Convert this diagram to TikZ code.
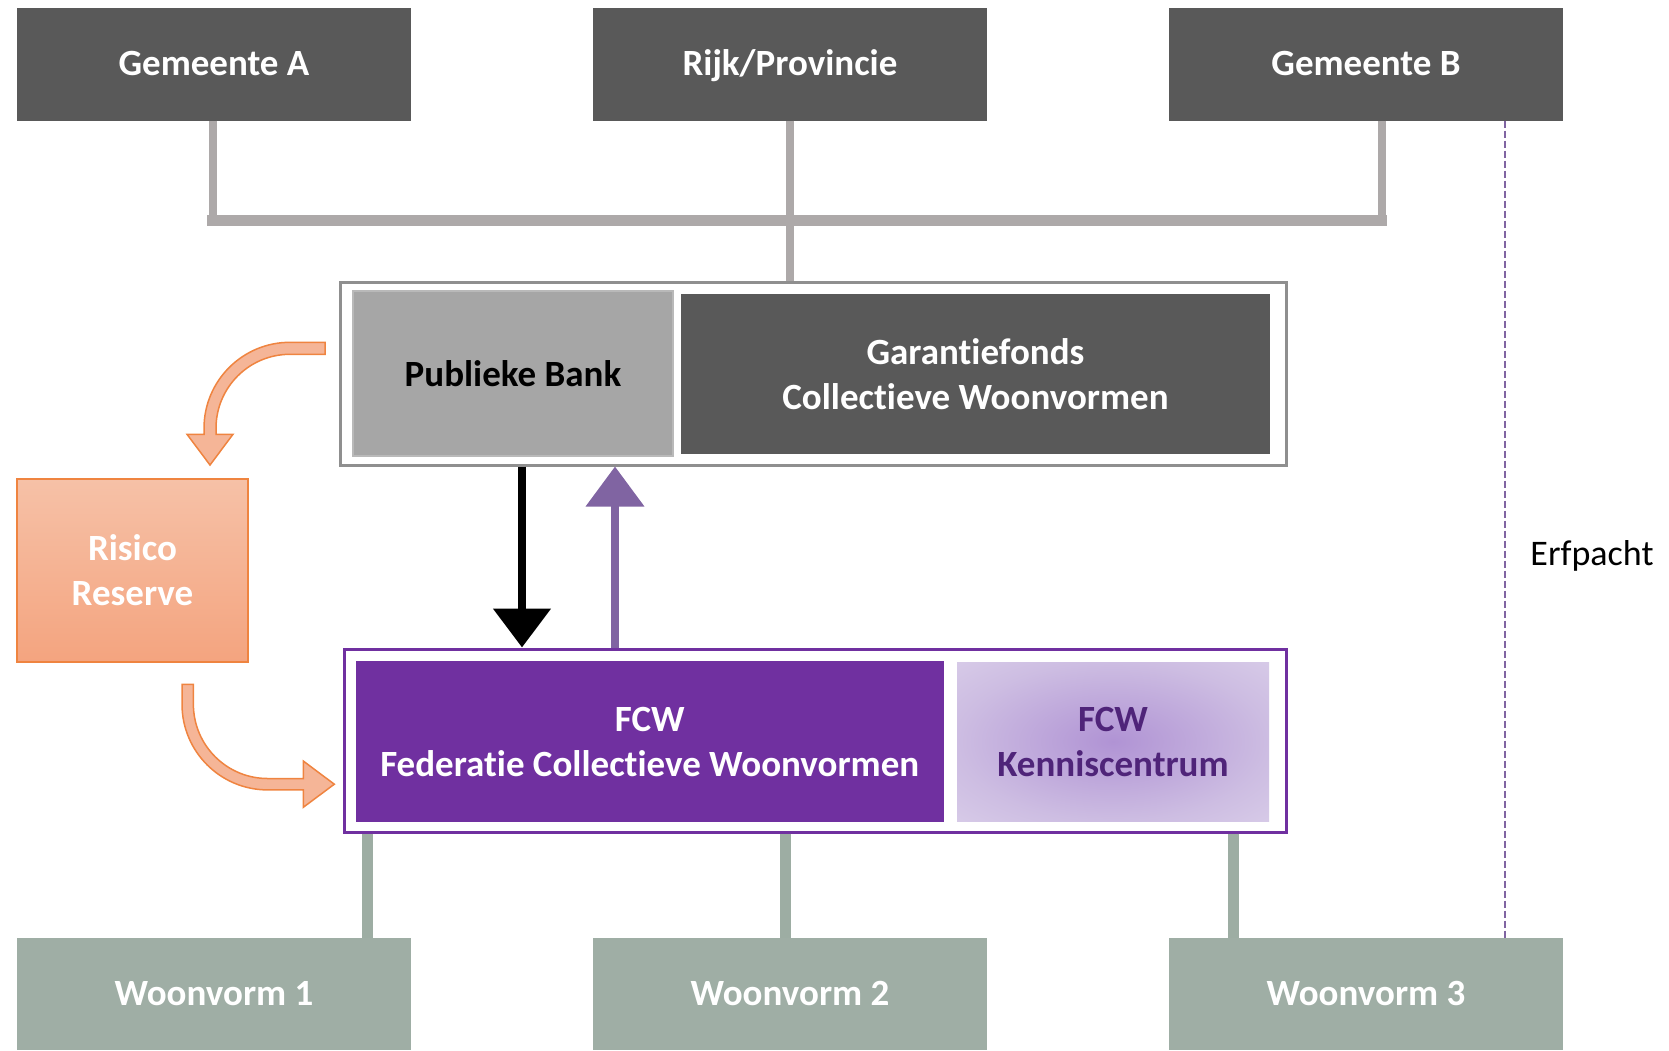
\documentclass[tikz,border=0pt]{standalone}
\usepackage{fontspec}
\setmainfont{Carlito}[Ligatures=CommonOff]
\usetikzlibrary{arrows.meta}
\definecolor{dgray}{HTML}{595959}
\definecolor{mgray}{HTML}{A6A6A6}
\definecolor{cgray}{HTML}{ADA9A9}
\definecolor{bgray}{HTML}{8F8F8F}
\definecolor{woon}{HTML}{9FAEA5}
\definecolor{woonline}{HTML}{9DADA3}
\definecolor{fcw}{HTML}{7030A0}
\definecolor{lpurp}{HTML}{8064A2}
\definecolor{kcin}{HTML}{B093D4}
\definecolor{kcmid}{HTML}{CDBDE2}
\definecolor{kcout}{HTML}{E4DCEF}
\definecolor{kctext}{HTML}{4F2479}
\definecolor{ortop}{HTML}{F6C1A7}
\definecolor{orbot}{HTML}{F4A47F}
\definecolor{orline}{HTML}{EF8440}
\definecolor{orfill}{HTML}{F5B597}
\pgfdeclareradialshading{kenshade}{\pgfpoint{0bp}{0bp}}{color(0bp)=(kcin); color(25bp)=(kcmid); color(50bp)=(kcout); color(100bp)=(kcout)}
\begin{document}
\begin{tikzpicture}[x=1pt,y=-1pt,
  lbl/.style={font=\bfseries\fontsize{37}{45}\selectfont, align=center, inner sep=0pt},
  darkbox/.style={lbl, rectangle, fill=dgray, text=white, minimum width=394pt, minimum height=113pt, text height=31pt, text depth=7.5pt},
  woonbox/.style={lbl, rectangle, fill=woon, text=white, minimum width=394pt, minimum height=112pt, text height=31pt, text depth=7.5pt},
  topconn/.style={draw=cgray, line width=8.5pt},
  lowconn/.style={draw=woonline, line width=11pt},
  curvearrow/.style={fill=orfill, draw=orline, line width=1.5pt, line join=miter}
]
\useasboundingbox (0,0) rectangle (1669,1050);

% top boxes
\node[darkbox] (gemA) at (214,64) {Gemeente A};
\node[darkbox] (rijk) at (790,64) {Rijk/Provincie};
\node[darkbox] (gemB) at (1366,64) {Gemeente B};

% bottom boxes
\node[woonbox] (woon1) at (214,994) {Woonvorm 1};
\node[woonbox] (woon2) at (790,994) {Woonvorm 2};
\node[woonbox] (woon3) at (1366,994) {Woonvorm 3};

% upper container
\node[rectangle, draw=bgray, line width=3pt, fill=white, minimum width=946pt, minimum height=183pt, inner sep=0pt] (upper) at (813,373.5) {};
\node[lbl, rectangle, fill=mgray, draw=gray!55, line width=1.5pt, text=black, minimum width=320pt, minimum height=165pt] (bank) at (513,373.5) {Publieke Bank};
\node[lbl, rectangle, fill=dgray, text=white, minimum width=589pt, minimum height=160pt] (garant) at (975.5,374) {Garantiefonds\\Collectieve Woonvormen};

% lower container
\node[rectangle, draw=fcw, line width=3pt, fill=white, minimum width=942pt, minimum height=183pt, inner sep=0pt] (lower) at (815,740.5) {};
\node[lbl, rectangle, fill=fcw, text=white, minimum width=588.5pt, minimum height=161pt] (fcwbox) at (649.75,741.5) {FCW\\Federatie Collectieve Woonvormen};
\node[lbl, rectangle, shading=kenshade, text=kctext, minimum width=312pt, minimum height=159pt] (kennis) at (1113,741.5) {FCW\\Kenniscentrum};

% risico reserve
\node[lbl, rectangle, top color=ortop, bottom color=orbot, draw=orline, line width=1.5pt, text=white, minimum width=231pt, minimum height=183pt] (risico) at (132.5,570.5) {Risico\\Reserve};

% erfpacht
\node[font=\fontsize{36}{45}\selectfont, inner sep=0pt] (erf) at (1592,556) {Erfpacht};

% top connectors
\coordinate (barL) at (207,220.5);
\coordinate (barR) at (1387,220.5);
\coordinate (xA) at (213,0);
\coordinate (xB) at (1382,0);
\draw[topconn] (xA |- gemA.south) -- (xA |- barL);
\draw[topconn] (xB |- gemB.south) -- (xB |- barR);
\draw[draw=cgray, line width=11pt] (barL) -- (barR);
\draw[topconn] (rijk.south) -- (rijk.south |- upper.north);

% lower connectors
\coordinate (x1) at (367,0);
\coordinate (x2) at (785.5,0);
\coordinate (x3) at (1233.6,0);
\draw[lowconn] (x1 |- lower.south) -- (x1 |- woon1.north);
\draw[lowconn] (x2 |- lower.south) -- (x2 |- woon2.north);
\draw[lowconn] (x3 |- lower.south) -- (x3 |- woon3.north);

% dashed erfpacht line
\coordinate (xd) at (1505,0);
\draw[lpurp, line width=2.5pt, dash pattern=on 7pt off 3pt] (xd |- gemB.south) -- (xd |- woon3.north);

% vertical arrows
\coordinate (xb) at (522,0);
\coordinate (xp) at (615,0);
\draw[black, line width=8.5pt, -{Triangle[width=56pt,length=39pt]}] (xb |- upper.south) -- (xb |- lower.north);
\draw[lpurp, line width=7.5pt, -{Triangle[width=57pt,length=40pt]}] (xp |- lower.north) -- (xp |- upper.south);

% curved arrow: bank -> risico
\draw[curvearrow] (325,342.3) -- (290,342.3) arc (270:180:86) -- (204,434.3) -- (187,434.3) -- (210,465) -- (233,434.3) -- (216,434.3) -- (216,428.3) arc (180:270:74) -- (325,354.3) -- cycle;

% curved arrow: risico -> fcw
\draw[curvearrow] (182,684.3) -- (182,704.2) arc (180:90:85.7) -- (303.3,789.9) -- (303.3,807.3) -- (334.3,784.2) -- (303.3,761) -- (303.3,778.5) -- (267.7,778.5) arc (90:180:74.3) -- (193.4,684.3) -- cycle;
\end{tikzpicture}
\end{document}
